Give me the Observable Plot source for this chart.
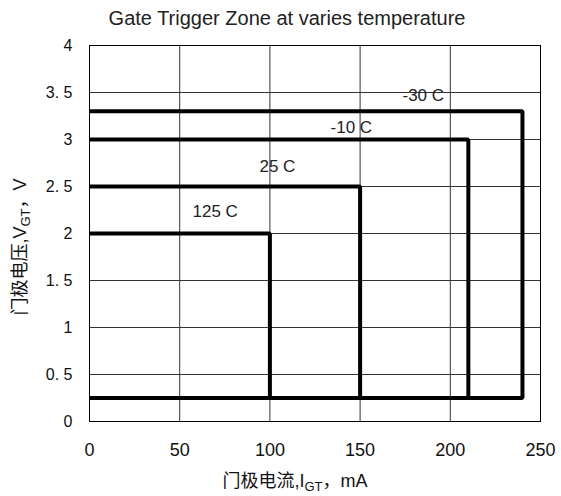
<!DOCTYPE html>
<html>
<head>
<meta charset="utf-8">
<script src="https://cdn.jsdelivr.net/npm/d3@7"></script>
<script src="https://cdn.jsdelivr.net/npm/@observablehq/plot@0.6"></script>
<style>
  html, body { margin: 0; padding: 0; background: #fff; }
  #chart { width: 561px; height: 496px; }
</style>
</head>
<body>
<div id="chart"></div>
<script>
// ---- data ----
const temps = ["-30 C", "-10 C", "25 C", "125 C"];
const igtMax = [240, 210, 150, 100];   // mA
const vgtMax = [3.3, 3.0, 2.5, 2.0];   // V
const vgtMin = 0.25;                   // V
const labelX = [173.5, 133.6, 94.2, 57.1];
const labelY = [3.47, 3.125, 2.71, 2.23];
const xTicks = [0, 50, 100, 150, 200, 250];
const yTicks = [0, 0.5, 1, 1.5, 2, 2.5, 3, 3.5, 4];
const title = "Gate Trigger Zone at varies temperature";

// ---- build rows ----
const zoneRows = [];
temps.forEach((t, k) => {
  zoneRows.push({temp: t, i: 0, v: vgtMax[k]});
  zoneRows.push({temp: t, i: igtMax[k], v: vgtMax[k]});
  zoneRows.push({temp: t, i: igtMax[k], v: vgtMin});
  if (k === 0) zoneRows.push({temp: t, i: 0, v: vgtMin});
});
const labelRows = temps.map((t, k) => ({temp: t, x: labelX[k], y: labelY[k]}));

const font = "'Liberation Sans', Arial, 'Noto Sans CJK SC', sans-serif";

const svg = Plot.plot({
  width: 561,
  height: 496,
  marginTop: 45,
  marginBottom: 75,
  marginLeft: 89,
  marginRight: 21,
  style: {fontFamily: font, background: "#fff", color: "#111"},
  x: {domain: [0, 250], ticks: xTicks, label: null},
  y: {domain: [0, 4], ticks: yTicks, label: null},
  marks: [
    Plot.gridX(xTicks, {stroke: "#333", strokeOpacity: 1}),
    Plot.gridY(yTicks, {stroke: "#333", strokeOpacity: 1}),
    Plot.frame({stroke: "#000"}),
    Plot.axisX(xTicks, {tickSize: 0, tickPadding: 22, fontSize: 18, label: null}),
    Plot.axisY(yTicks, {tickSize: 0, tickPadding: 17, fontSize: 16, label: null,
      tickFormat: d => String(d).replace(".", ". ")}),
    Plot.line(zoneRows, {x: "i", y: "v", z: "temp", stroke: "#000", strokeWidth: 4,
      strokeLinejoin: "miter", strokeLinecap: "butt"}),
    Plot.text(labelRows, {x: "x", y: "y", text: "temp", textAnchor: "start",
      lineAnchor: "middle", fontSize: 17, fill: "#222"})
  ]
});

const s = d3.select(svg);
// title
s.append("text")
  .attr("x", 287).attr("y", 25)
  .attr("text-anchor", "middle")
  .attr("font-size", 20)
  .attr("fill", "#222")
  .attr("font-family", font)
  .text(title);

function subLabel(g, main, sub, tail) {
  g.append("tspan").text(main);
  g.append("tspan").attr("font-size", 13).attr("dy", 4).text(sub);
  g.append("tspan").attr("dy", -4).text(tail);
}
// x label
const xl = s.append("text")
  .attr("x", 295).attr("y", 487)
  .attr("text-anchor", "middle")
  .attr("font-size", 18)
  .attr("fill", "#111")
  .attr("font-family", font);
subLabel(xl, "门极电流,I", "GT", "，mA");
// y label
const yl = s.append("text")
  .attr("transform", "translate(26,247) rotate(-90)")
  .attr("text-anchor", "middle")
  .attr("font-size", 18)
  .attr("fill", "#111")
  .attr("font-family", font);
subLabel(yl, "门极电压,V", "GT", "，V");

document.getElementById("chart").appendChild(svg);
</script>
</body>
</html>
